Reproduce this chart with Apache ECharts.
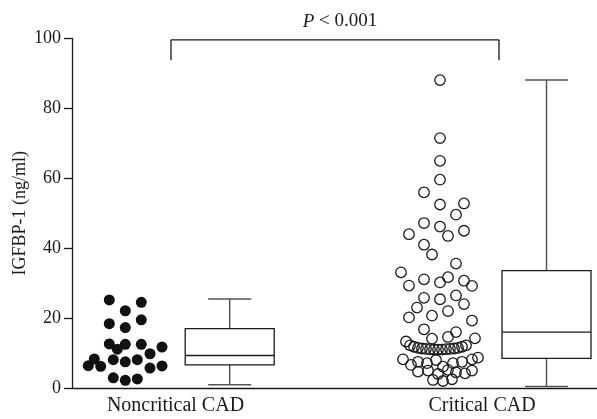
<!DOCTYPE html>
<html>
<head>
<meta charset="utf-8">
<script src="https://cdn.jsdelivr.net/npm/echarts@6/dist/echarts.min.js"></script>
<style>html,body{margin:0;padding:0;background:#fff}#c{width:597px;height:419px}</style>
</head>
<body>
<div id="c"></div>
<script>
// ---- data ----
const categories = ['Noncritical CAD', 'Critical CAD'];
const categoryPositions = [103.5, 410];
const yTicks = [0, 20, 40, 60, 80, 100];
const yAxisName = 'IGFBP-1 (ng/ml)';

const nonCritX = [37.3, 69.3, 53.3, 37.3, 69.3, 53.3, 37.3, 53.3, 69.3, 45.3, 90, 78, 22.3, 41.3, 53.3, 65.3, 16.3, 28.7, 78, 90, 41.3, 53.3, 65.3];
const nonCritY = [25.2, 24.5, 22.1, 18.4, 19.5, 17.3, 12.6, 12.5, 12.5, 11.1, 11.7, 9.8, 8.3, 8.1, 7.5, 8.1, 6.4, 6.2, 5.7, 6.3, 2.9, 2.2, 2.6];

const critX = [368, 368, 368, 368, 352, 368, 392, 384, 352, 368, 392, 337, 376, 352, 360, 384, 329, 337, 352, 368, 376, 392, 400, 352, 368, 384, 392, 345, 337, 360, 376, 400, 352, 384, 360, 376, 403, 334,
  338, 342, 346, 350, 354, 358, 362, 366, 370, 374, 378, 382, 386, 390, 394,
  331, 339, 346, 355, 364, 371, 381, 390, 400, 406,
  346, 356, 366, 376, 384, 393, 400,
  361, 371, 380];
const critY = [88.1, 71.5, 65.0, 59.6, 56.0, 52.5, 52.8, 49.6, 47.2, 46.2, 45.0, 44.0, 43.5, 41.0, 38.2, 35.6, 33.1, 29.3, 31.1, 30.2, 31.7, 30.7, 29.2, 25.8, 25.4, 26.5, 24.0, 23.0, 20.2, 20.7, 22.0, 19.3, 16.8, 16.0, 14.1, 14.6, 14.2, 13.3,
  12.2, 11.8, 11.5, 11.3, 11.2, 11.1, 11.0, 11.0, 11.0, 11.1, 11.2, 11.3, 11.5, 11.8, 12.2,
  8.2, 6.6, 7.5, 7.1, 8.0, 6.1, 7.1, 7.5, 8.2, 8.7,
  4.7, 5.0, 4.0, 5.2, 4.5, 4.2, 5.0,
  2.3, 2.0, 2.5];

// box: [center, min, q1, median, q3, max]
const boxNonCrit = [157.7, 0.95, 6.6, 9.3, 17.0, 25.5];
const boxCrit = [474.5, 0.4, 8.5, 16.0, 33.6, 88.1];

const bracketX = [99, 99, 427, 427];
const bracketY = [93.8, 99.6, 99.6, 93.8];
const pText = '{i|P} < 0.001';

// ---- chart ----
const serif = '"Liberation Serif", "DejaVu Serif", serif';
const chart = echarts.init(document.getElementById('c'));
const BOX_HALF = 44.5, CAP_HALF = 21.5;

function renderBox(params, api) {
  const c = api.value(0);
  const pMin = api.coord([c, api.value(1)]);
  const pQ1 = api.coord([c, api.value(2)]);
  const pMed = api.coord([c, api.value(3)]);
  const pQ3 = api.coord([c, api.value(4)]);
  const pMax = api.coord([c, api.value(5)]);
  const x = pMin[0];
  const ls = {stroke: '#1a1a1a', lineWidth: 1.3, fill: null};
  const ws = {stroke: '#555', lineWidth: 1.5, fill: null};
  return {
    type: 'group',
    children: [
      {type: 'line', shape: {x1: x, y1: pMax[1], x2: x, y2: pQ3[1]}, style: ws},
      {type: 'line', shape: {x1: x, y1: pMin[1], x2: x, y2: pQ1[1]}, style: ws},
      {type: 'line', shape: {x1: x - CAP_HALF, y1: pMax[1], x2: x + CAP_HALF, y2: pMax[1]}, style: ws},
      {type: 'line', shape: {x1: x - CAP_HALF, y1: pMin[1], x2: x + CAP_HALF, y2: pMin[1]}, style: ws},
      {type: 'rect', shape: {x: x - BOX_HALF, y: pQ3[1], width: 2 * BOX_HALF, height: pQ1[1] - pQ3[1]}, style: ls},
      {type: 'line', shape: {x1: x - BOX_HALF, y1: pMed[1], x2: x + BOX_HALF, y2: pMed[1]}, style: ls}
    ]
  };
}

chart.setOption({
  animation: false,
  backgroundColor: '#fff',
  title: {
    text: pText,
    left: 335, top: 7, textAlign: 'center',
    textStyle: {fontFamily: serif, fontSize: 19, fontWeight: 'normal', color: '#1a1a1a',
      rich: {i: {fontFamily: serif, fontSize: 19, fontStyle: 'italic', color: '#1a1a1a'}}}
  },
  grid: {left: 72, right: 0, top: 38.5, bottom: 31, containLabel: false, outerBoundsMode: 'none'},
  xAxis: {
    type: 'value', min: 0, max: 525,
    splitLine: {show: false},
    axisTick: {show: false},
    axisLine: {lineStyle: {color: '#1a1a1a', width: 1.3}},
    axisLabel: {
      customValues: categoryPositions,
      formatter: function (v) {
        const i = categoryPositions.indexOf(v);
        return i >= 0 ? categories[i] : '';
      },
      fontFamily: serif, fontSize: 20, color: '#1a1a1a', margin: 8
    }
  },
  yAxis: {
    type: 'value', min: yTicks[0], max: yTicks[yTicks.length - 1], interval: yTicks[1] - yTicks[0],
    name: yAxisName, nameLocation: 'middle', nameGap: 43, nameMoveOverlap: false,
    nameTextStyle: {fontFamily: serif, fontSize: 18, color: '#1a1a1a'},
    splitLine: {show: false},
    axisLine: {show: true, lineStyle: {color: '#1a1a1a', width: 1.3}},
    axisTick: {show: true, length: 8, lineStyle: {color: '#1a1a1a', width: 1.3}},
    axisLabel: {fontFamily: serif, fontSize: 18, color: '#1a1a1a', margin: 11}
  },
  series: [
    {
      type: 'scatter',
      data: nonCritX.map((x, i) => [x, nonCritY[i]]),
      symbol: 'circle', symbolSize: 11,
      itemStyle: {color: '#111', opacity: 1},
      clip: false
    },
    {
      type: 'scatter',
      data: critX.map((x, i) => [x, critY[i]]),
      symbol: 'circle', symbolSize: 10.5,
      itemStyle: {color: 'rgba(0,0,0,0)', borderColor: '#1a1a1a', borderWidth: 1.3, opacity: 1},
      clip: false
    },
    {
      type: 'custom',
      renderItem: renderBox,
      data: [boxNonCrit, boxCrit],
      encode: {x: 0, y: [1, 2, 3, 4, 5]},
      clip: false,
      z: 3
    },
    {
      type: 'line',
      data: bracketX.map((x, i) => [x, bracketY[i]]),
      showSymbol: false, symbol: 'none',
      lineStyle: {color: '#1a1a1a', width: 1.3},
      clip: false
    }
  ]
});
</script>
</body>
</html>
